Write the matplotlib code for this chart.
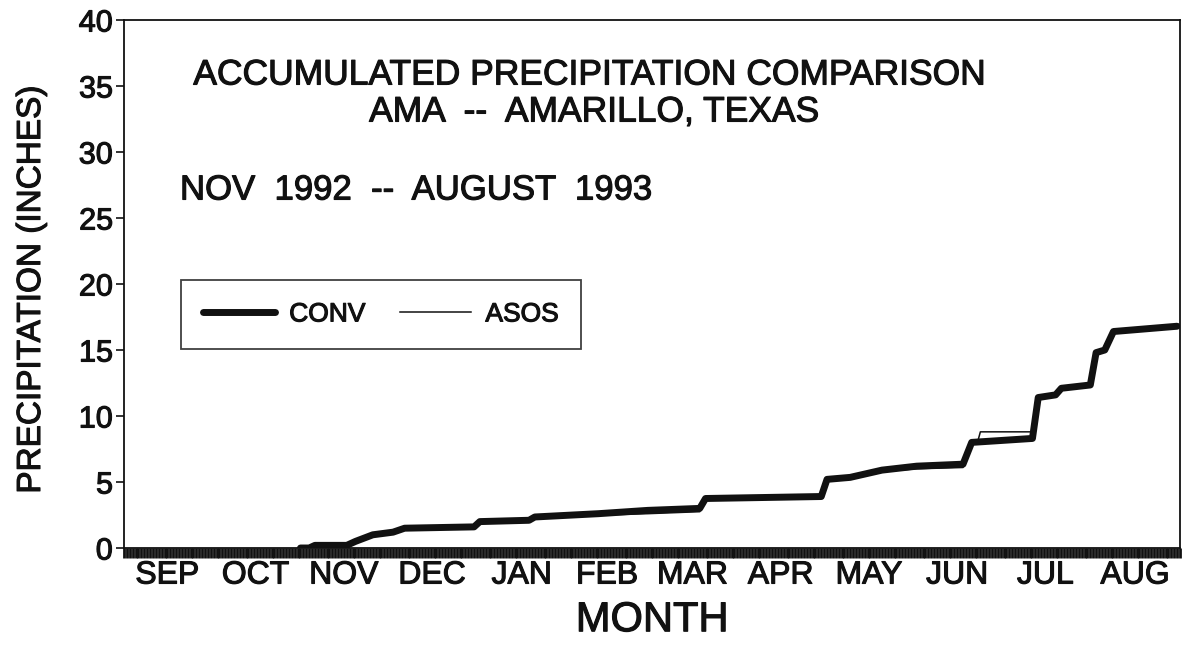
import matplotlib
matplotlib.use("Agg")
import matplotlib.pyplot as plt
import matplotlib.dates as mdates
import matplotlib.patheffects as pe
import numpy as np

plt.rcParams['font.family'] = ['Liberation Sans', 'DejaVu Sans']

# ---- data ----
conv_dates = ["1992-11-01", "1992-11-04", "1992-11-06", "1992-11-17", "1992-11-20",
              "1992-11-26", "1992-12-03", "1992-12-07", "1992-12-31", "1993-01-02",
              "1993-01-19", "1993-01-21", "1993-02-12", "1993-03-01", "1993-03-19",
              "1993-03-21", "1993-04-30", "1993-05-02", "1993-05-10", "1993-05-21",
              "1993-06-02", "1993-06-18", "1993-06-21", "1993-07-12", "1993-07-14",
              "1993-07-20", "1993-07-22", "1993-08-01", "1993-08-03", "1993-08-06",
              "1993-08-09", "1993-08-31"]
conv_values = [0.0, 0.0, 0.2, 0.2, 0.5,
               1.0, 1.2, 1.5, 1.6, 2.0,
               2.1, 2.35, 2.6, 2.85, 3.0,
               3.75, 3.9, 5.2, 5.35, 5.9,
               6.2, 6.35, 8.0, 8.3, 11.4,
               11.6, 12.1, 12.35, 14.8, 15.0,
               16.4, 16.8]

asos_dates = ["1992-11-01", "1992-11-04", "1992-11-06", "1992-11-17", "1992-11-20",
              "1992-11-26", "1992-12-03", "1992-12-07", "1992-12-31", "1993-01-02",
              "1993-01-19", "1993-01-21", "1993-02-12", "1993-03-01", "1993-03-19",
              "1993-03-21", "1993-04-30", "1993-05-02", "1993-05-10", "1993-05-21",
              "1993-06-02", "1993-06-18", "1993-06-21", "1993-06-23", "1993-06-24",
              "1993-07-12", "1993-07-14", "1993-07-20", "1993-07-22", "1993-08-01",
              "1993-08-03", "1993-08-06", "1993-08-09", "1993-08-31"]
asos_values = [0.0, 0.0, 0.2, 0.2, 0.5,
               1.0, 1.2, 1.5, 1.6, 2.0,
               2.1, 2.35, 2.5, 2.6, 2.75,
               3.7, 3.85, 5.15, 5.3, 5.8,
               6.0, 6.1, 7.9, 8.0, 8.8,
               8.8, 11.4, 11.6, 12.1, 12.35,
               14.8, 15.0, 16.4, 16.8]

month_labels = ["SEP", "OCT", "NOV", "DEC", "JAN", "FEB", "MAR", "APR", "MAY", "JUN", "JUL", "AUG"]
month_starts = ["1992-09-01", "1992-10-01", "1992-11-01", "1992-12-01", "1993-01-01",
                "1993-02-01", "1993-03-01", "1993-04-01", "1993-05-01", "1993-06-01",
                "1993-07-01", "1993-08-01", "1993-09-01"]
y_ticks = [0, 5, 10, 15, 20, 25, 30, 35, 40]

INK = '#111111'
heavy = [pe.withStroke(linewidth=0.8, foreground=INK)]

# ---- figure ----
fig = plt.figure(figsize=(11.84, 6.46), dpi=100)
ax = fig.add_axes([124/1184, (646-548)/646, (1180-124)/1184, (548-20)/646])

to_num = lambda s: mdates.date2num(np.datetime64(s))
cx = [to_num(d) for d in conv_dates]
axx = [to_num(d) for d in asos_dates]
ms = [to_num(d) for d in month_starts]

ax.plot(cx, conv_values, color=INK, lw=5.0, solid_capstyle='round',
        solid_joinstyle='round', label='CONV')
ax.plot(axx, asos_values, color=INK, lw=1.1, label='ASOS')

ax.set_xlim(ms[0], ms[-1])
ax.set_ylim(0, 40)

mids = [(ms[i] + ms[i+1]) / 2 for i in range(12)]
ax.xaxis.remove_overlapping_locs = False
ax.set_xticks(mids)
ax.set_xticklabels(month_labels, fontsize=23)
ax.tick_params(axis='x', length=0, pad=9)
daily = np.arange(ms[0], ms[-1] + 0.5, 1.0)
ax.set_xticks(daily, minor=True)
ax.tick_params(axis='x', which='minor', length=7.5, width=2.0, direction='out', color=INK)

ax.set_yticks(y_ticks)
ax.set_yticklabels([str(v) for v in y_ticks], fontsize=22)
ax.tick_params(axis='y', length=6, width=1.2, direction='out', pad=2, color=INK)

for sp in ax.spines.values():
    sp.set_linewidth(1.3)
    sp.set_color(INK)

ax.set_xlabel('MONTH', fontsize=30, labelpad=7)
ax.set_ylabel('PRECIPITATION (INCHES)', fontsize=24)
ax.yaxis.set_label_coords(-(124-47)/1056, 0.49)

ax.text(0.44, (548-75)/528, 'ACCUMULATED PRECIPITATION COMPARISON',
        transform=ax.transAxes, ha='center', va='center', fontsize=25.5)
ax.text(0.445, (548-112)/528, 'AMA  --  AMARILLO, TEXAS',
        transform=ax.transAxes, ha='center', va='center', fontsize=25.5)
ax.text(56/1056, (548-190)/528, 'NOV  1992  --  AUGUST  1993', transform=ax.transAxes,
        ha='left', va='center', fontsize=25)

leg = ax.legend(loc='upper left', bbox_to_anchor=(57/1056, (548-280)/528), ncol=2,
                fontsize=19, frameon=True, fancybox=False, edgecolor=INK,
                handlelength=2.7, handletextpad=0.55, columnspacing=1.3,
                borderpad=0.85, borderaxespad=0)
leg.get_frame().set_linewidth(1.3)

texts = [ax.xaxis.label, ax.yaxis.label] + ax.get_xticklabels() + ax.get_yticklabels() \
        + list(ax.texts) + leg.get_texts()
for t in texts:
    t.set_color(INK)
    t.set_path_effects(heavy)

fig.savefig('out.png', dpi=100, facecolor='white')
